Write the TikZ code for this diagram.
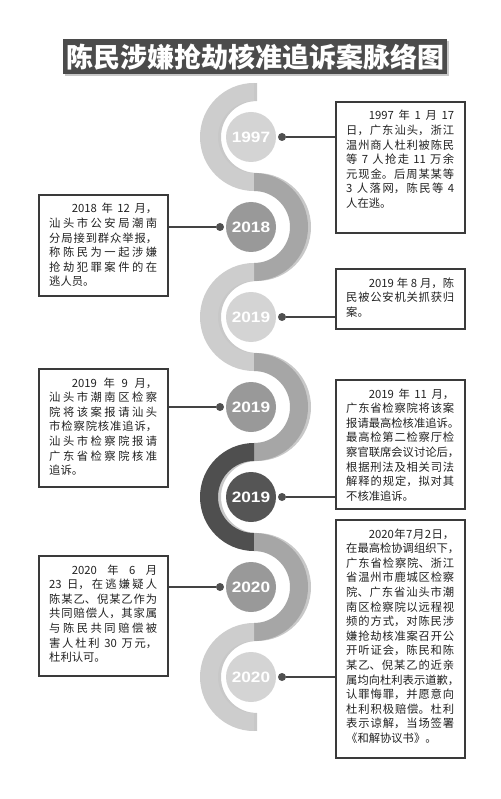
\documentclass[tikz,border=0pt]{standalone}
\usepackage{fontspec}
\setmainfont{Liberation Sans}
\newfontfamily\cjk{Noto Sans CJK SC}
\newfontfamily\yearfont[FakeStretch=1.15]{Liberation Sans}
\XeTeXlinebreaklocale "zh"
\XeTeXlinebreakskip=0pt plus 1pt
\definecolor{boxc}{HTML}{3A3A3A}
\definecolor{txtc}{HTML}{222222}
\definecolor{connc}{HTML}{444444}
\definecolor{dotc}{HTML}{505050}
\definecolor{lightarc}{HTML}{CDCDCD}
\definecolor{lightcirc}{HTML}{D4D4D4}
\definecolor{medarc}{HTML}{A6A6A6}
\definecolor{medcirc}{HTML}{999999}
\definecolor{darkarc}{HTML}{4F4F4F}
\definecolor{darkcirc}{HTML}{555555}
\definecolor{shadowc}{HTML}{C8C8C8}
\definecolor{titlec}{HTML}{4B4B4B}
\newcommand{\hp}[1]{\makebox[0.45em][l]{#1}}
\newcommand{\LArc}[3]{\fill[#2] (254+#3,#1+54) arc[start angle=90,end angle=270,radius=54pt] -- ++(0,18) arc[start angle=270,end angle=90,radius=36pt] -- cycle;}
\newcommand{\RArc}[3]{\fill[#2] (254+#3,#1+54) arc[start angle=90,end angle=-90,radius=54pt] -- ++(0,18) arc[start angle=-90,end angle=90,radius=36pt] -- cycle;}
\tikzset{
 box/.style={draw=boxc, line width=2pt, fill=white, minimum width=129pt, inner sep=0pt, anchor=north west},
 txt/.style={text width=108pt, inner sep=0pt, anchor=base west, align=justify, font=\cjk\fontsize{11.3}{14.6}\selectfont, text=txtc},
 yr/.style={circle, minimum size=50pt, inner sep=0pt, text=white, font=\yearfont\bfseries\fontsize{15}{15}\selectfont},
 dotn/.style={circle, fill=dotc, minimum size=8pt, inner sep=0pt},
 conn/.style={draw=connc, line width=2pt}
}
\begin{document}
\begin{tikzpicture}[x=1pt,y=1pt]
\useasboundingbox (0,0) rectangle (500,-799);
\fill[white] (0,0) rectangle (500,-799);
% title
\fill[shadowc] (65,-41) rectangle (449,-76);
\node[fill=titlec, minimum width=384pt, minimum height=35pt, inner sep=0pt, anchor=north west, text=white, font=\cjk\bfseries\fontsize{27}{27}\selectfont] (title) at (63,-39) {陈民涉嫌抢劫核准追诉案脉络图};
% arc shadows
\LArc{-137}{shadowc}{3}
\RArc{-227}{shadowc}{3}
\LArc{-317}{shadowc}{3}
\RArc{-407}{shadowc}{3}
\LArc{-497}{shadowc}{3}
\RArc{-587}{shadowc}{3}
\LArc{-677}{shadowc}{3}
% arcs
\LArc{-137}{lightarc}{0}
\RArc{-227}{medarc}{0}
\LArc{-317}{lightarc}{0}
\RArc{-407}{medarc}{0}
\LArc{-497}{darkarc}{0}
\RArc{-587}{medarc}{0}
\LArc{-677}{lightarc}{0}
% circles
\node[yr, fill=lightcirc] (c1) at (251,-137) {1997};
\node[yr, fill=medcirc] (c2) at (251,-227) {2018};
\node[yr, fill=lightcirc] (c3) at (251,-317) {2019};
\node[yr, fill=medcirc] (c4) at (251,-407) {2019};
\node[yr, fill=darkcirc] (c5) at (251,-497) {2019};
\node[yr, fill=medcirc] (c6) at (251,-587) {2020};
\node[yr, fill=lightcirc] (c7) at (251,-677) {2020};
% boxes
\node[box, minimum height=131pt] (b1) at (335,-101) {};
\node[box, minimum height=101pt] (b2) at (38,-194) {};
\node[box, minimum height=60pt] (b3) at (335,-268) {};
\node[box, minimum height=118pt] (b4) at (38,-368) {};
\node[box, minimum height=129pt] (b5) at (335,-379) {};
\node[box, minimum height=238pt] (b6) at (335,-519) {};
\node[box, minimum height=120pt] (b7) at (38,-555) {};
% dots and connectors
\node[dotn] (d1) at (282,-137) {};
\node[dotn] (d2) at (220,-227) {};
\node[dotn] (d3) at (282,-317) {};
\node[dotn] (d4) at (220,-407) {};
\node[dotn] (d5) at (282,-497) {};
\node[dotn] (d6) at (220,-587) {};
\node[dotn] (d7) at (282,-677) {};
\draw[conn] (d1) -- (d1 -| b1.west);
\draw[conn] (d2) -- (d2 -| b2.east);
\draw[conn] (d3) -- (d3 -| b3.west);
\draw[conn] (d4) -- (d4 -| b4.east);
\draw[conn] (d5) -- (d5 -| b5.west);
\draw[conn] (d6) -- (d6 -| b7.east);
\draw[conn] (d7) -- (d7 -| b6.west);
% texts
\node[txt] (t1) at (346,-120) {\hspace*{2em}1997 年 1 月 17\linebreak 日，广东汕头，浙江\linebreak 温州商人杜利被陈民\linebreak 等 7 人抢走 11 万余\linebreak 元现金。后周某某等\linebreak 3 人落网，陈民等 4\linebreak 人在逃。};
\node[txt] (t2) at (49,-213) {\hspace*{2em}2018 年 12 月，\linebreak 汕头市公安局潮南\linebreak 分局接到群众举报，\linebreak 称陈民为一起涉嫌\linebreak 抢劫犯罪案件的在\linebreak 逃人员。};
\node[txt] (t3) at (346,-287) {\hspace*{2em}2019 年 8 月，陈\linebreak 民被公安机关抓获归\linebreak 案。};
\node[txt] (t4) at (49,-387) {\hspace*{2em}2019 年 9 月，\linebreak 汕头市潮南区检察\linebreak 院将该案报请汕头\linebreak 市检察院核准追诉，\linebreak 汕头市检察院报请\linebreak 广东省检察院核准\linebreak 追诉。};
\node[txt] (t5) at (346,-398) {\hspace*{2em}2019 年 11 月，\linebreak 广东省检察院将该案\linebreak \mbox{报请最高检核准追诉\hp{。}}\linebreak 最高检第二检察厅检\linebreak \mbox{察官联席会议讨论后\hp{，}}\linebreak 根据刑法及相关司法\linebreak 解释的规定，拟对其\linebreak 不核准追诉。};
\node[txt] (t6) at (346,-538) {\hspace*{2em}2020年7月2日，\linebreak \mbox{在最高检协调组织下\hp{，}}\linebreak 广东省检察院、浙江\linebreak 省温州市鹿城区检察\linebreak 院、广东省汕头市潮\linebreak 南区检察院以远程视\linebreak 频的方式，对陈民涉\linebreak 嫌抢劫核准案召开公\linebreak 开听证会，陈民和陈\linebreak 某乙、倪某乙的近亲\linebreak \mbox{属均向杜利表示道歉\hp{，}}\linebreak 认罪悔罪，并愿意向\linebreak 杜利积极赔偿。杜利\linebreak 表示谅解，当场签署\linebreak 《和解协议书》。};
\node[txt] (t7) at (49,-574) {\hspace*{2em}2020 年 6 月\linebreak 23 日，在逃嫌疑人\linebreak 陈某乙、倪某乙作为\linebreak 共同赔偿人，其家属\linebreak 与陈民共同赔偿被\linebreak 害人杜利 30 万元，\linebreak 杜利认可。};
\end{tikzpicture}
\end{document}
